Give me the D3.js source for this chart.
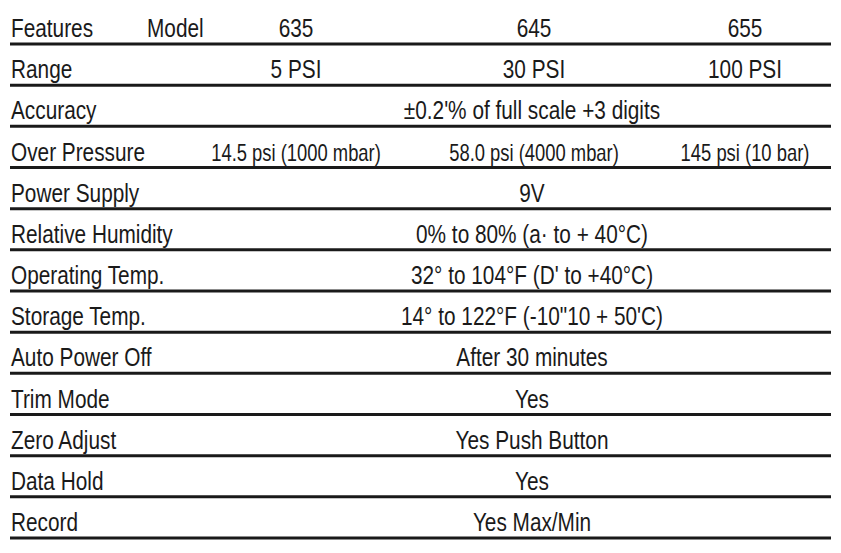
<!DOCTYPE html>
<html><head><meta charset="utf-8">
<script src="https://cdn.jsdelivr.net/npm/d3@7"></script>
<style>body{margin:0;background:#fff}</style>
</head><body>
<svg id="chart" width="841" height="553"></svg>
<script>
var features = ["Features", "Range", "Accuracy", "Over Pressure", "Power Supply", "Relative Humidity",
  "Operating Temp.", "Storage Temp.", "Auto Power Off", "Trim Mode", "Zero Adjust", "Data Hold", "Record"];
var models = ["635", "645", "655"];
// each row: either 3 values (one per model) or 1 value spanning all
var values = [
  models,
  ["5 PSI", "30 PSI", "100 PSI"],
  ["±0.2'% of full scale +3 digits"],
  ["14.5 psi (1000 mbar)", "58.0 psi (4000 mbar)", "145 psi (10 bar)"],
  ["9V"],
  ["0% to 80% (a· to + 40°C)"],
  ["32° to 104°F (D' to +40°C)"],
  ["14° to 122°F (-10\"10 + 50'C)"],
  ["After 30 minutes"],
  ["Yes"],
  ["Yes Push Button"],
  ["Yes"],
  ["Yes Max/Min"]
];

var svg = d3.select("#chart");
var font = "'Liberation Sans',Arial,sans-serif";
var sx = 0.8;
var y = d3.scaleLinear().domain([0, 12]).range([44, 538]);
var colX = d3.scaleOrdinal().domain([0, 1, 2]).range([296, 534, 745]);

function label(sel, x, txt, size, anchor) {
  return sel.append("text")
    .attr("transform", "translate(" + x + ",-7) scale(" + sx + ",1)")
    .attr("text-anchor", anchor || "start")
    .attr("font-family", font).attr("font-size", size).attr("fill", "#1a1a1a")
    .text(txt);
}

var rows = svg.selectAll("g.row").data(features).enter().append("g")
  .attr("transform", (d, i) => "translate(0," + y(i) + ")");

rows.append("line").attr("x1", 10).attr("x2", 831).attr("y1", 0).attr("y2", 0)
  .attr("stroke", "#1a1a1a").attr("stroke-width", 3);

rows.each(function(d, i) {
  var g = d3.select(this);
  label(g, 11, d, 26);
  if (i === 0) label(g, 147, "Model", 26);
  var vals = values[i];
  vals.forEach(function(v, j) {
    label(g, vals.length === 1 ? 532 : colX(j), v, i === 3 ? 23 : 26, "middle");
  });
});
</script>
</body></html>
